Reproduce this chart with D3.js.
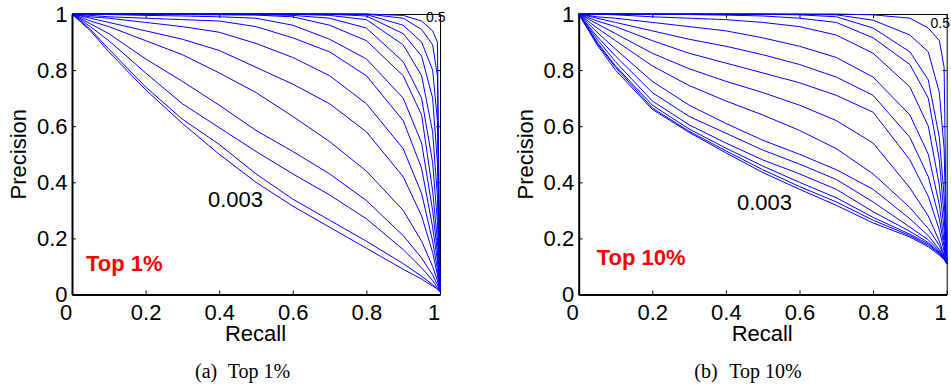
<!DOCTYPE html>
<html>
<head>
<meta charset="utf-8">
<script src="https://cdn.jsdelivr.net/npm/d3@7"></script>
<style>
  html, body { margin: 0; padding: 0; background: #fff; }
  svg { display: block; }
</style>
</head>
<body>
<svg id="chart" width="951" height="392"></svg>
<script>
// Recall sample points shared by every curve
const recall = [0, 0.05, 0.1, 0.2, 0.3, 0.4, 0.5, 0.6, 0.7, 0.8, 0.9, 0.95, 0.98, 0.993, 1];

// Precision curves, Top 1% panel (lowest curve first)
const top1Precision = [
  [1, .94, .865, .73, .61, .50, .40, .315, .24, .165, .09, .055, .03, .02, .01],
  [1, .945, .875, .74, .625, .535, .43, .34, .265, .19, .11, .065, .035, .02, .01],
  [1, .955, .905, .79, .68, .595, .51, .43, .355, .27, .16, .095, .05, .025, .01],
  [1, .965, .93, .84, .76, .675, .585, .51, .43, .335, .21, .13, .07, .035, .01],
  [1, .975, .955, .905, .855, .79, .72, .635, .545, .44, .30, .19, .10, .05, .01],
  [1, .985, .97, .94, .91, .87, .81, .75, .68, .58, .42, .28, .15, .07, .01],
  [1, .99, .985, .97, .955, .935, .895, .845, .78, .68, .52, .36, .19, .09, .01],
  [1, .995, .99, .985, .98, .975, .955, .915, .865, .78, .62, .45, .24, .12, .01],
  [1, 1, .998, .995, .993, .99, .985, .96, .91, .84, .70, .54, .30, .15, .01],
  [1, 1, 1, .999, .998, .997, .996, .99, .96, .905, .78, .64, .37, .19, .01],
  [1, 1, 1, 1, 1, .999, .998, .995, .985, .95, .83, .70, .47, .26, .01],
  [1, 1, 1, 1, 1, 1, 1, .999, .995, .98, .89, .78, .58, .35, .01],
  [1, 1, 1, 1, 1, 1, 1, 1, .999, .993, .93, .85, .70, .47, .01],
  [1, 1, 1, 1, 1, 1, 1, 1, 1, .998, .96, .90, .80, .62, .01],
  [1, 1, 1, 1, 1, 1, 1, 1, 1, 1, .985, .945, .89, .78, .01],
  [1, 1, 1, 1, 1, 1, 1, 1, 1, 1, .995, .975, .94, .90, .01]
];

// Precision curves, Top 10% panel (lowest curve first)
const top10Precision = [
  [1, .89, .80, .66, .578, .505, .435, .375, .318, .255, .205, .17, .14, .125, .11],
  [1, .895, .81, .665, .582, .512, .445, .385, .33, .265, .21, .175, .145, .125, .11],
  [1, .90, .815, .675, .59, .522, .458, .40, .345, .275, .215, .18, .148, .127, .11],
  [1, .91, .83, .69, .605, .54, .48, .43, .375, .295, .225, .185, .15, .128, .11],
  [1, .92, .85, .72, .635, .575, .515, .465, .41, .33, .24, .195, .155, .13, .11],
  [1, .935, .875, .76, .675, .61, .55, .50, .445, .375, .27, .21, .16, .13, .11],
  [1, .95, .905, .815, .745, .69, .64, .585, .52, .43, .31, .235, .175, .135, .11],
  [1, .965, .93, .86, .805, .76, .72, .675, .62, .54, .38, .28, .19, .14, .11],
  [1, .975, .955, .905, .86, .825, .79, .755, .71, .65, .48, .35, .23, .155, .11],
  [1, .985, .97, .94, .91, .885, .855, .82, .775, .71, .56, .42, .27, .17, .11],
  [1, .99, .985, .97, .955, .94, .915, .885, .845, .775, .64, .50, .32, .19, .11],
  [1, 1, .997, .99, .985, .98, .97, .955, .925, .86, .74, .60, .39, .23, .11],
  [1, 1, 1, .999, .998, .996, .993, .985, .97, .915, .82, .70, .48, .28, .11],
  [1, 1, 1, 1, 1, 1, .999, .997, .99, .95, .865, .765, .56, .35, .11],
  [1, 1, 1, 1, 1, 1, 1, .999, .997, .978, .925, .865, .72, .52, .11],
  [1, 1, 1, 1, 1, 1, 1, 1, 1, .997, .985, .95, .905, .81, .11]
];

const xTicks = [0, 0.2, 0.4, 0.6, 0.8, 1];
const yTicks = [0, 0.2, 0.4, 0.6, 0.8, 1];
const xTickLabels = ["0", "0.2", "0.4", "0.6", "0.8", "1"];
const yTickLabels = ["0", "0.2", "0.4", "0.6", "0.8", "1"];

const panelTags = ["Top 1%", "Top 10%"];
const panelLetters = ["(a)", "(b)"];
const lowLabel = "0.003";
const highLabel = "0.5";

const svg = d3.select("#chart");
const sans = "'Liberation Sans', Arial, Helvetica, sans-serif";
const serif = "'Liberation Serif', 'Times New Roman', Times, serif";
const blue = "#0000ff";

const panels = [
  { left: 72, data: top1Precision, lowAt: [208, 207], highAt: [426, 21.5], capGap: 32.7 },
  { left: 578.7, data: top10Precision, lowAt: [737, 209.5], highAt: [930.5, 27.5], capGap: 35 }
];

const plotW = 368, plotTop = 14, plotBottom = 294.5;

panels.forEach((p, i) => {
  const x = d3.scaleLinear().domain([0, 1]).range([p.left, p.left + plotW]);
  const y = d3.scaleLinear().domain([0, 1]).range([plotBottom, plotTop]);
  const g = svg.append("g");

  // Box: heavy bottom/left axes, light top/right frame, inward ticks
  const bottomAxis = d3.axisBottom(x).tickValues(xTicks)
    .tickFormat((d, k) => xTickLabels[k]).tickSizeInner(-4).tickSizeOuter(0).tickPadding(9.5);
  const leftAxis = d3.axisLeft(y).tickValues(yTicks)
    .tickFormat((d, k) => yTickLabels[k]).tickSizeInner(-4).tickSizeOuter(0).tickPadding(4.5);
  const topAxis = d3.axisTop(x).tickValues(xTicks).tickFormat("").tickSizeInner(-4).tickSizeOuter(0);
  const rightAxis = d3.axisRight(y).tickValues(yTicks).tickFormat("").tickSizeInner(-4).tickSizeOuter(0);

  g.append("g").attr("transform", `translate(0,${plotTop})`).call(topAxis);
  g.append("g").attr("transform", `translate(${p.left + plotW},0)`).call(rightAxis);
  const gx = g.append("g").attr("transform", `translate(0,${plotBottom})`).call(bottomAxis);
  const gy = g.append("g").attr("transform", `translate(${p.left},0)`).call(leftAxis);

  g.selectAll(".domain").attr("stroke", "#000").attr("stroke-width", 1);
  gx.select(".domain").attr("stroke-width", 2);
  gy.select(".domain").attr("stroke-width", 2);
  g.selectAll(".tick line").attr("stroke", "#000").attr("stroke-width", 1);
  g.selectAll(".tick text").attr("font-family", sans).attr("font-size", 22).attr("fill", "#000");
  // end labels on the recall axis sit slightly left of their ticks
  gx.selectAll(".tick text").attr("dx", d => (d === 0 || d === 1) ? -6.5 : 0);

  // Precision-recall curves
  const line = d3.line().x(d => x(d[0])).y(d => y(d[1]));
  g.append("g").selectAll("path")
    .data(p.data)
    .join("path")
    .attr("d", vals => line(vals.map((v, k) => [recall[k], v])))
    .attr("fill", "none")
    .attr("stroke", blue)
    .attr("stroke-width", 1);

  // Axis titles
  g.append("text")
    .attr("x", p.left + plotW / 2 - 0.5)
    .attr("y", 341)
    .attr("text-anchor", "middle")
    .attr("font-family", sans).attr("font-size", 22)
    .text("Recall");
  g.append("text")
    .attr("transform", `translate(${p.left - 53.5},${(plotTop + plotBottom) / 2}) rotate(-90)`)
    .attr("text-anchor", "middle")
    .attr("dy", "0.35em")
    .attr("font-family", sans).attr("font-size", 22)
    .text("Precision");

  // Curve labels
  g.append("text")
    .attr("x", p.lowAt[0]).attr("y", p.lowAt[1])
    .attr("font-family", sans).attr("font-size", 22)
    .text(lowLabel);
  g.append("text")
    .attr("x", p.highAt[0]).attr("y", p.highAt[1])
    .attr("font-family", sans).attr("font-size", 14)
    .text(highLabel);

  // Red tag inside the plot
  g.append("text")
    .attr("x", p.left + 14 + (i ? 4 : 0)).attr("y", i ? 264.5 : 270.5)
    .attr("font-family", sans).attr("font-size", 22).attr("font-weight", "bold")
    .attr("fill", "#ff0000")
    .text(panelTags[i]);

  // Sub-caption
  const capX = i ? 694.3 : 195;
  g.append("text")
    .attr("x", capX).attr("y", 378)
    .attr("font-family", serif).attr("font-size", 20)
    .text(panelLetters[i]);
  g.append("text")
    .attr("x", capX + p.capGap).attr("y", 378)
    .attr("font-family", serif).attr("font-size", 20)
    .text(panelTags[i]);
});
</script>
</body>
</html>
